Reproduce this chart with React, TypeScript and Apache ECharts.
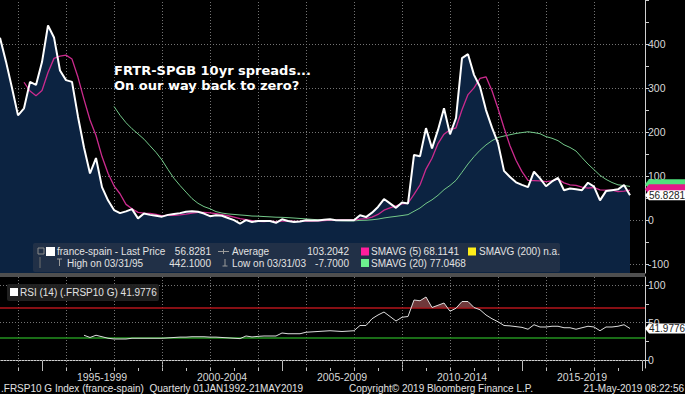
import React, { useEffect, useRef } from "react";
import * as echarts from "echarts";

// Quarterly observations, first one at 31 Mar 1993 (decimal year of quarter end)
const FIRST_QUARTER_END = 1993.25;
const QUARTER_STEP = 0.25;

// France - Spain 10y spread (bp), quarterly
const spread: number[] = [
  414, 360, 300, 238, 254, 314, 307, 359, 442.1, 415, 340, 318, 314, 235, 165, 106, 141, 75, 45, 23,
  16, 20, 25, 4, 15, 12, 10, 8, 12, 14, 16, 19, 20, 19, 15, 9, 11, 10, 5, 0, -7.7,
  0, -4, -2, -2, -2, -6, 2, -2, -4, -3, 0, -1, -1, 1, 2, 0, 0, 0, 0,
  11, 7, 17, 30, 48, 38, 28, 40, 38,
  148, 145, 209, 163, 205, 254, 195, 232, 368, 377, 330, 303, 250, 210, 175, 112, 98, 86, 80,
  75, 110, 95, 77, 88, 96, 68, 72, 70, 68, 85, 76, 45, 66, 68, 70, 80, 56.8281,
];

// RSI(14) (first 14 quarters have no value)
const rsi14: (number | null)[] = [
  null, null, null, null, null, null, null, null, null, null, null, null, null, null,
  33, 30, 33, 31, 29, 28, 28, 28, 29, 29, 29, 29, 29, 29, 29.5, 30, 30.5, 30.5, 31, 31, 31, 30.5, 30.5, 30, 29.5, 29, 28.5,
  32, 30.7, 31.5, 32, 32, 32, 36, 35, 35, 35, 37, 37.5, 38, 38.5, 39, 38.5, 38, 38.5, 39,
  46, 46, 55, 60, 64, 58, 52, 57, 58,
  80, 79, 84, 70, 73, 76, 65, 69, 78, 78, 70, 67, 60, 55, 51, 46, 45.5, 44.5, 43.5,
  41, 47, 44, 44, 45, 45, 43, 43, 41, 43, 45, 44, 39, 44, 44, 45, 47, 41.9776,
];

const periodLabels = ["1995-1999", "2000-2004", "2005-2009", "2010-2014", "2015-2019"];
const periodTicks = [1995, 2000, 2005, 2010, 2015, 2020];
const periodMids = [1997.5, 2002.5, 2007.5, 2012.5, 2017.5];
const yearTicks = [1994, 1995, 1996, 1997, 1998, 1999, 2000, 2001, 2002, 2003, 2004, 2005, 2006, 2007, 2008, 2009, 2010, 2011, 2012, 2013, 2014, 2015, 2016, 2017, 2018, 2019, 2020];
const gridYears = [1994, 1996, 1998, 2000, 2002, 2004, 2006, 2008, 2010, 2012, 2014, 2016, 2018];
const priceTicks = [-100, -50, 0, 50, 100, 150, 200, 250, 300, 350, 400, 450, 500];
const priceLabels = [-100, 0, 100, 200, 300, 400];
const priceGrid = [-100, 0, 100, 200, 300, 400];
const rsiTicks = [0, 25, 50, 75, 100];
const rsiLabels = [0, 50, 100];
const rsiGrid = [0, 50, 100];
const RSI_HIGH = 70;
const RSI_LOW = 30;

const LAST_PRICE = 56.8281;
const RSI_LAST = 41.9776;

const X_MIN = 1993.25;
const X_MAX = 2020.125;

function sma(arr: number[], n: number): (number | null)[] {
  return arr.map((_, i) => {
    if (i < n - 1) return null;
    let s = 0;
    for (let k = i - n + 1; k <= i; k++) s += arr[k];
    return s / n;
  });
}

const FONT = '"Liberation Sans", Arial, sans-serif';

export default function App() {
  const ref = useRef<HTMLDivElement>(null);
  useEffect(() => {
    document.body.style.margin = "0";
    document.body.style.background = "#000";
    const chart = echarts.init(ref.current!, null, { renderer: "svg" });
    const xOf = (i: number) => FIRST_QUARTER_END + i * QUARTER_STEP;
    const pts = (arr: (number | null)[]) =>
      arr.map((v, i) => (v == null ? null : [xOf(i), v])).filter((p) => p != null) as number[][];

    const sma5 = sma(spread, 5);
    const sma20 = sma(spread, 20);

    // fill above the 70 line, with crossing points of the RSI line itself
    const fillPts: number[][] = [];
    let prev: number[] | null = null;
    rsi14.forEach((v, i) => {
      if (v == null) return;
      const cur = [xOf(i), v];
      if (prev && (prev[1] - RSI_HIGH) * (cur[1] - RSI_HIGH) < 0) {
        const t = (RSI_HIGH - prev[1]) / (cur[1] - prev[1]);
        fillPts.push([prev[0] + t * (cur[0] - prev[0]), RSI_HIGH]);
      }
      fillPts.push([cur[0], Math.max(cur[1], RSI_HIGH)]);
      prev = cur;
    });

    const dotted = { type: [1, 2] as any, color: "#747474", width: 1 };

    chart.setOption({
      animation: false,
      backgroundColor: "#000",
      grid: [
        { left: 0, top: 0, width: 645, height: 273 },
        { left: 0, top: 277, width: 645, height: 91 },
      ],
      xAxis: [
        { type: "value", gridIndex: 0, min: X_MIN, max: X_MAX, show: false },
        {
          type: "value", gridIndex: 1, min: X_MIN, max: X_MAX, position: "bottom",
          axisLine: { show: true, lineStyle: { color: "#cfcfcf", width: 1 } },
          axisTick: { show: true, customValues: periodTicks, length: 9, lineStyle: { color: "#bdbdbd" } },
          axisLabel: {
            show: true, customValues: periodMids, color: "#d8d8d8", fontSize: 10.5, fontFamily: FONT, margin: 3,
            formatter: (v: number) => periodLabels[Math.round((v - periodMids[0]) / 5)] ?? "",
          },
          splitLine: { show: false },
        },
        {
          type: "value", gridIndex: 1, min: X_MIN, max: X_MAX, position: "bottom",
          axisLine: { show: false },
          axisTick: { show: true, customValues: yearTicks, length: 3, lineStyle: { color: "#bdbdbd" } },
          axisLabel: { show: false },
          splitLine: { show: false },
        },
      ],
      yAxis: [
        {
          type: "value", gridIndex: 0, position: "right", min: -120, max: 500,
          axisLine: { show: true, lineStyle: { color: "#cfcfcf" } },
          axisTick: { show: true, customValues: priceTicks, length: 4, lineStyle: { color: "#cfcfcf" } },
          axisLabel: { show: true, customValues: priceLabels, color: "#d8d8d8", fontSize: 10.5, fontFamily: FONT, margin: 3 },
          splitLine: { show: false },
        },
        {
          type: "value", gridIndex: 1, position: "right", min: -10.7, max: 110.7,
          axisLine: { show: true, lineStyle: { color: "#cfcfcf" } },
          axisTick: { show: true, customValues: rsiTicks, length: 4, lineStyle: { color: "#cfcfcf" } },
          axisLabel: { show: true, customValues: rsiLabels, color: "#d8d8d8", fontSize: 10.5, fontFamily: FONT, margin: 3 },
          splitLine: { show: false },
        },
      ],
      series: [
        {
          name: "area", type: "line", xAxisIndex: 0, yAxisIndex: 0, data: pts(spread),
          showSymbol: false, silent: true, z: 1,
          lineStyle: { width: 0 },
          areaStyle: { color: "#0c2341", opacity: 1, origin: "start" },
          markLine: {
            silent: true, symbol: "none", z: 1, label: { show: false }, lineStyle: dotted,
            data: [
              ...gridYears.map((y) => ({ xAxis: y })),
              ...priceGrid.map((v) => ({ yAxis: v })),
            ],
          },
        },
        {
          name: "SMAVG (20)", type: "line", xAxisIndex: 0, yAxisIndex: 0, data: pts(sma20),
          showSymbol: false, silent: true, z: 3, lineStyle: { color: "#74c98a", width: 1 },
        },
        {
          name: "SMAVG (5)", type: "line", xAxisIndex: 0, yAxisIndex: 0, data: pts(sma5),
          showSymbol: false, silent: true, z: 4, lineStyle: { color: "#cc2b8e", width: 1.3 },
        },
        {
          name: "france-spain", type: "line", xAxisIndex: 0, yAxisIndex: 0, data: pts(spread),
          showSymbol: false, silent: true, z: 5, lineStyle: { color: "#ffffff", width: 2 },
        },
        {
          name: "rsi-fill", type: "line", xAxisIndex: 1, yAxisIndex: 1, data: fillPts,
          showSymbol: false, silent: true, z: 2, lineStyle: { width: 0 },
          areaStyle: { color: "rgba(176,88,92,0.9)", origin: RSI_HIGH },
          markLine: {
            silent: true, symbol: "none", z: 2, label: { show: false }, lineStyle: dotted,
            data: [
              ...gridYears.map((y) => ({ xAxis: y })),
              ...rsiGrid.map((v) => ({ yAxis: v })),
              { yAxis: RSI_HIGH, lineStyle: { type: "solid", color: "#b3141b", width: 1.6 } },
              { yAxis: RSI_LOW, lineStyle: { type: "solid", color: "#23921f", width: 1.6 } },
            ],
          },
        },
        {
          name: "RSI (14)", type: "line", xAxisIndex: 1, yAxisIndex: 1, data: pts(rsi14),
          showSymbol: false, silent: true, z: 4, lineStyle: { color: "#dedede", width: 1 },
        },
      ],
    });

    const yP = (v: number) => chart.convertToPixel({ yAxisIndex: 0 }, v) as number;
    const yR = (v: number) => chart.convertToPixel({ yAxisIndex: 1 }, v) as number;
    const yW = yP(LAST_PRICE);
    const yRs = yR(RSI_LAST);
    const tag = (yc: number, h: number, fill: string) => ({
      type: "polygon",
      shape: { points: [[645, yc], [649, yc - h / 2], [685, yc - h / 2], [685, yc + h / 2], [649, yc + h / 2]] },
      style: { fill },
      z: 100,
    });
    const txt = (text: string, x: number, y: number, opts: any = {}) => ({
      type: "text", x, y, z: 101,
      style: {
        text, fill: opts.fill ?? "#e2e2e2", fontSize: opts.fontSize ?? 10, fontFamily: opts.fontFamily ?? FONT,
        fontWeight: opts.fontWeight ?? "normal",
        textAlign: opts.align ?? "left", textVerticalAlign: "middle",
      },
    });
    const line = (x1: number, y1: number, x2: number, y2: number, color = "#9a9a9a") => ({
      type: "line", z: 101, shape: { x1, y1, x2, y2 }, style: { stroke: color, lineWidth: 1 },
    });
    const sq = (x: number, y: number, color: string) => ({
      type: "rect", z: 101, shape: { x, y, width: 8, height: 8 }, style: { fill: color },
    });
    const r1 = 251.5;
    const r2 = 263;

    chart.setOption({
      graphic: [
        { type: "rect", z: 50, shape: { x: 0, y: 273, width: 645, height: 4 }, style: { fill: "#4f4f4f" } },
        // title
        txt("FRTR-SPGB 10yr spreads...", 114, 70, { fill: "#ffffff", fontSize: 13, fontWeight: "bold", fontFamily: '"DejaVu Sans", sans-serif' }),
        txt("On our way back to zero?", 114, 85, { fill: "#ffffff", fontSize: 13, fontWeight: "bold", fontFamily: '"DejaVu Sans", sans-serif' }),
        // legend box
        { type: "rect", z: 90, shape: { x: 33, y: 243, width: 527, height: 29, r: 2 }, style: { fill: "rgba(36,50,72,0.9)" } },
        { type: "rect", z: 101, shape: { x: 38, y: 248, width: 6, height: 6 }, style: { fill: "none", stroke: "#8a8a8a", lineWidth: 1 } },
        line(40, 257, 40, 268, "#6f6f6f"),
        { type: "rect", z: 101, shape: { x: 46, y: 247, width: 9, height: 9 }, style: { fill: "#ffffff" } },
        txt("france-spain - Last Price", 57, r1),
        txt("56.8281", 211, r1, { align: "right" }),
        line(218, r1, 229, r1), line(223.5, r1 - 2.5, 223.5, r1 + 2.5),
        txt("Average", 232, r1),
        txt("103.2042", 349, r1, { align: "right" }),
        sq(361, 247.5, "#ff1e9c"),
        txt("SMAVG (5)", 371, r1),
        txt("68.1141", 459, r1, { align: "right" }),
        sq(468, 247.5, "#ffee1a"),
        txt("SMAVG (200) n.a.", 479, r1),
        line(57, r2 - 4, 62, r2 - 4), line(59.5, r2 - 4, 59.5, r2 + 3),
        txt("High on 03/31/95", 67, r2),
        txt("442.1000", 211, r2, { align: "right" }),
        line(225, r2 - 4, 225, r2 + 3), line(222.5, r2 + 3, 227.5, r2 + 3),
        txt("Low on 03/31/03", 232, r2),
        txt("-7.7000", 349, r2, { align: "right" }),
        sq(361, 259, "#6cf08e"),
        txt("SMAVG (20) 77.0468", 371, r2),
        // RSI legend
        { type: "rect", z: 90, shape: { x: 7, y: 284, width: 152, height: 17, r: 2 }, style: { fill: "rgba(34,34,34,0.95)" } },
        { type: "rect", z: 101, shape: { x: 10, y: 288, width: 8, height: 8 }, style: { fill: "#ffffff" } },
        txt("RSI (14) (.FRSP10 G) 41.9776", 20, 292.5),
        // right-axis tags
        tag(yW - 11, 10, "#4fe37c"),
        tag(yW - 6, 10, "#e3198a"),
        tag(yW, 10, "#ffffff"),
        txt("56.8281", 667, yW, { fill: "#222", align: "center" }),
        tag(yRs, 10, "#ffffff"),
        txt(RSI_LAST.toFixed(4), 667, yRs, { fill: "#222", align: "center" }),
        // footer
        txt(".FRSP10 G Index (france-spain)  Quarterly 01JAN1992-21MAY2019", 1, 388),
        txt("Copyright\u00a9 2019 Bloomberg Finance L.P.", 349, 388),
        txt("21-May-2019 08:22:56", 684, 388, { align: "right" }),
      ],
    });
    return () => chart.dispose();
  }, []);
  return <div ref={ref} style={{ width: 685, height: 394, background: "#000" }} />;
}
